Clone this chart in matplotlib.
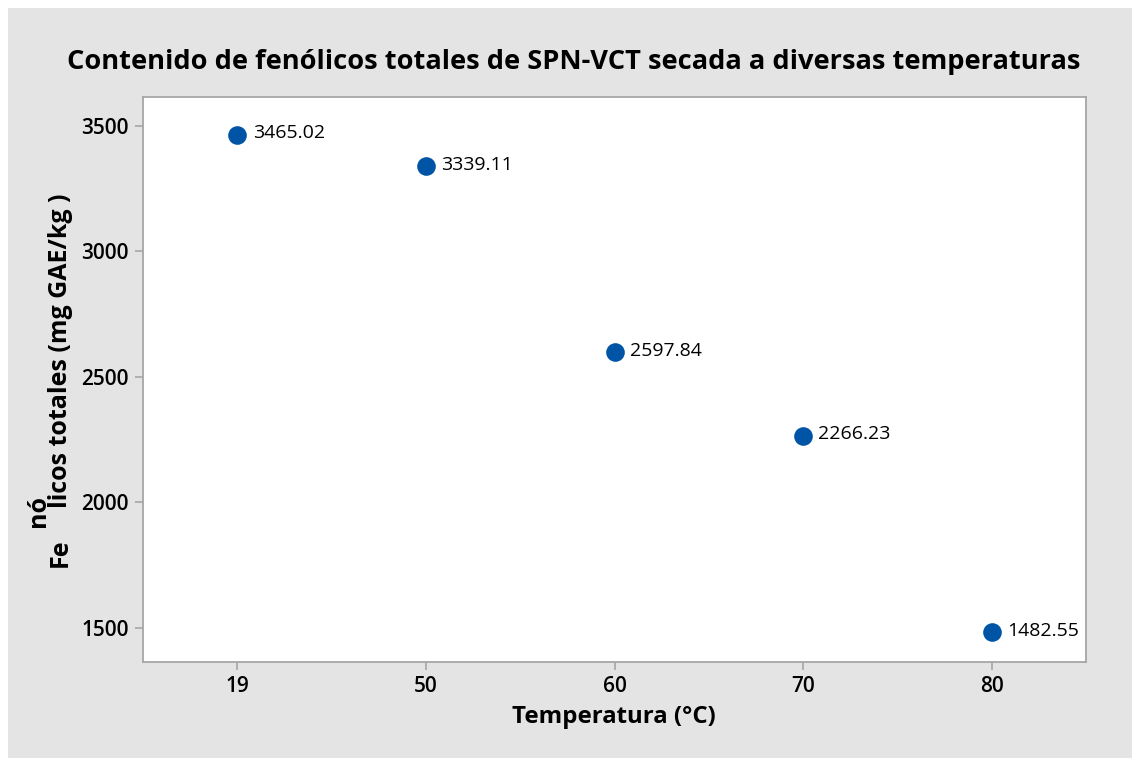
import matplotlib.pyplot as plt
from matplotlib.patches import Rectangle

plt.rcParams['font.family'] = ['Open Sans', 'DejaVu Sans']

temps = ['19', '50', '60', '70', '80']
fenolicos = [3465.02, 3339.11, 2597.84, 2266.23, 1482.55]
yticks = [1500, 2000, 2500, 3000, 3500]

W, H = 1132, 758
fig = plt.figure(figsize=(W / 100, H / 100), dpi=100, facecolor='white')
# gray panel, white strip on top and left
fig.patches.append(Rectangle((8 / W, 0), 1, (H - 8) / H, transform=fig.transFigure,
                             facecolor='#e4e4e4', edgecolor='none', zorder=-1))

ax = fig.add_axes([143 / W, (H - 662) / H, (1086 - 143) / W, (662 - 97) / H])
ax.set_facecolor('white')

x = list(range(len(temps)))
ax.scatter(x, fenolicos, s=180, color='#0054a6', zorder=3, linewidths=0)
for xi, v in zip(x, fenolicos):
    ax.annotate(f'{v:.2f}', (xi, v), xytext=(11, 1), textcoords='offset points',
                va='center', ha='left', fontsize=14)

ax.set_xlim(-0.5, 4.5)
ax.set_ylim(1364.5, 3615.5)
ax.set_xticks(x)
ax.set_xticklabels(temps)
ax.set_yticks(yticks)

for sp in ax.spines.values():
    sp.set_color('#a6a6a6')
    sp.set_linewidth(1.3)
ax.tick_params(colors='#a6a6a6', length=6, width=1.2, labelcolor='black',
               labelsize=15, pad=4)
for lbl in ax.get_xticklabels() + ax.get_yticklabels():
    lbl.set_fontweight('semibold')

fig.text(574 / W, (H - 62) / H,
         'Contenido de fenólicos totales de SPN-VCT secada a diversas temperaturas',
         ha='center', va='center', fontsize=19.6, fontweight='bold')
fig.text(614 / W, (H - 717) / H, 'Temperatura (°C)', ha='center', va='center',
         fontsize=17.3, fontweight='bold')

# y label with the odd superscript piece
kw = dict(rotation=90, rotation_mode='anchor', ha='left', va='baseline',
          fontsize=18, fontweight='bold')
fig.text(67 / W, (H - 567) / H, 'Fe', **kw)
fig.text(45 / W, (H - 527) / H, 'nó', **kw)
fig.text(67 / W, (H - 508) / H, 'licos totales (mg GAE/kg )', **kw)

fig.savefig('out.png', dpi=100, facecolor=fig.get_facecolor())
